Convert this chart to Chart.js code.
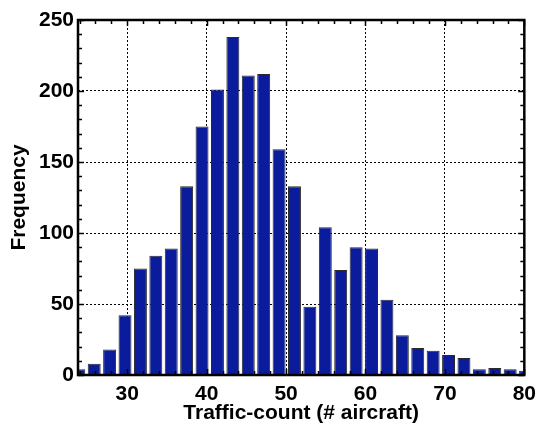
<!DOCTYPE html>
<html>
<head>
<meta charset="utf-8">
<script src="https://cdn.jsdelivr.net/npm/chart.js@4/dist/chart.umd.min.js"></script>
<style>
  html, body { margin: 0; padding: 0; background: #fff; }
  #wrap { width: 543px; height: 426px; }
</style>
</head>
<body>
<div id="wrap"><canvas id="hist" width="543" height="426"></canvas></div>
<script>
    // bin centres (traffic count) and counts
    const binCenters = [23.9, 25.84, 27.78, 29.72, 31.66, 33.6, 35.54, 37.48, 39.42, 41.36,
                        43.3, 45.24, 47.18, 49.12, 51.06, 53.0, 54.94, 56.88, 58.82, 60.76,
                        62.7, 64.64, 66.58, 68.52, 70.46, 72.4, 74.34, 76.28, 78.22, 80.16];
    const counts = [4, 8, 18, 42, 75, 84, 89, 133, 175, 201,
                    238, 211, 212, 159, 133, 48, 104, 74, 90, 89,
                    53, 28, 19, 17, 14, 12, 4, 5, 4, 3];
    const xTicks = [30, 40, 50, 60, 70, 80];
    const yTicks = [0, 50, 100, 150, 200, 250];
    const xRange = [23.8, 80];
    const yRange = [0, 250];
    const xMinorStep = 2;
    const yMinorStep = 10;

    const fontFamily = '"Liberation Sans", Arial, Helvetica, sans-serif';

    // black box round the plot with little inward ticks, matlab style
    const boxPlugin = {
        id: 'box',
        afterDraw(chart) {
            const { ctx, chartArea: a, scales } = chart;
            const x = scales.x, y = scales.y;
            ctx.save();
            ctx.strokeStyle = '#000';
            ctx.lineWidth = 1.5;
            ctx.beginPath();
            for (let v = 24; v <= xRange[1]; v += xMinorStep) {
                const px = Math.round(x.getPixelForValue(v)) + 0.5;
                const len = xTicks.includes(v) ? 6 : 4;
                ctx.moveTo(px, a.bottom); ctx.lineTo(px, a.bottom - len);
                ctx.moveTo(px, a.top); ctx.lineTo(px, a.top + len);
            }
            for (let v = yRange[0]; v <= yRange[1]; v += yMinorStep) {
                const py = Math.round(y.getPixelForValue(v)) + 0.5;
                const len = yTicks.includes(v) ? 6 : 4;
                ctx.moveTo(a.left, py); ctx.lineTo(a.left + len, py);
                ctx.moveTo(a.right, py); ctx.lineTo(a.right - len, py);
            }
            ctx.stroke();
            ctx.lineWidth = 2.5;
            ctx.strokeRect(a.left, a.top, a.right - a.left, a.bottom - a.top);
            ctx.restore();
        }
    };

    new Chart(document.getElementById('hist'), {
        type: 'bar',
        data: {
            datasets: [{
                data: binCenters.map((c, i) => ({ x: c, y: counts[i] })),
                backgroundColor: '#0a1c9c',
                borderColor: '#2a2a2a',
                borderWidth: 1,
                barPercentage: 0.84,
                categoryPercentage: 1.0
            }]
        },
        options: {
            responsive: false,
            animation: false,
            events: [],
            layout: { padding: { left: 0, right: 14, top: 20, bottom: 0 } },
            plugins: { legend: { display: false }, tooltip: { enabled: false } },
            scales: {
                x: {
                    type: 'linear',
                    offset: false,
                    min: xRange[0],
                    max: xRange[1],
                    afterBuildTicks: s => { s.ticks = xTicks.map(v => ({ value: v })); },
                    afterFit: s => { s.height = 51; },
                    border: { display: false, dash: [2, 2] },
                    grid: {
                        offset: false,
                        drawTicks: false,
                        color: c => (c.tick && c.tick.value === xRange[1]) ? 'rgba(0,0,0,0)' : '#000',
                        lineWidth: 1
                    },
                    ticks: {
                        padding: 7,
                        color: '#000',
                        maxRotation: 0,
                        font: { family: fontFamily, size: 21, weight: 'bold' }
                    },
                    title: {
                        display: true,
                        text: 'Traffic-count (# aircraft)',
                        color: '#000',
                        padding: { top: 3, bottom: 0 },
                        font: { family: fontFamily, size: 21, weight: 'bold' }
                    }
                },
                y: {
                    min: yRange[0],
                    max: yRange[1],
                    afterBuildTicks: s => { s.ticks = yTicks.map(v => ({ value: v })); },
                    afterFit: s => { s.width = 78; },
                    border: { display: false, dash: [2, 2] },
                    grid: {
                        drawTicks: false,
                        color: c => (c.tick && (c.tick.value === yRange[0] || c.tick.value === yRange[1])) ? 'rgba(0,0,0,0)' : '#000',
                        lineWidth: 1
                    },
                    ticks: {
                        padding: 4,
                        color: '#000',
                        font: { family: fontFamily, size: 21, weight: 'bold' }
                    },
                    title: {
                        display: true,
                        text: 'Frequency',
                        color: '#000',
                        padding: { top: 7, bottom: 0 },
                        font: { family: fontFamily, size: 21, weight: 'bold' }
                    }
                }
            }
        },
        plugins: [boxPlugin]
    });
</script>
</body>
</html>
